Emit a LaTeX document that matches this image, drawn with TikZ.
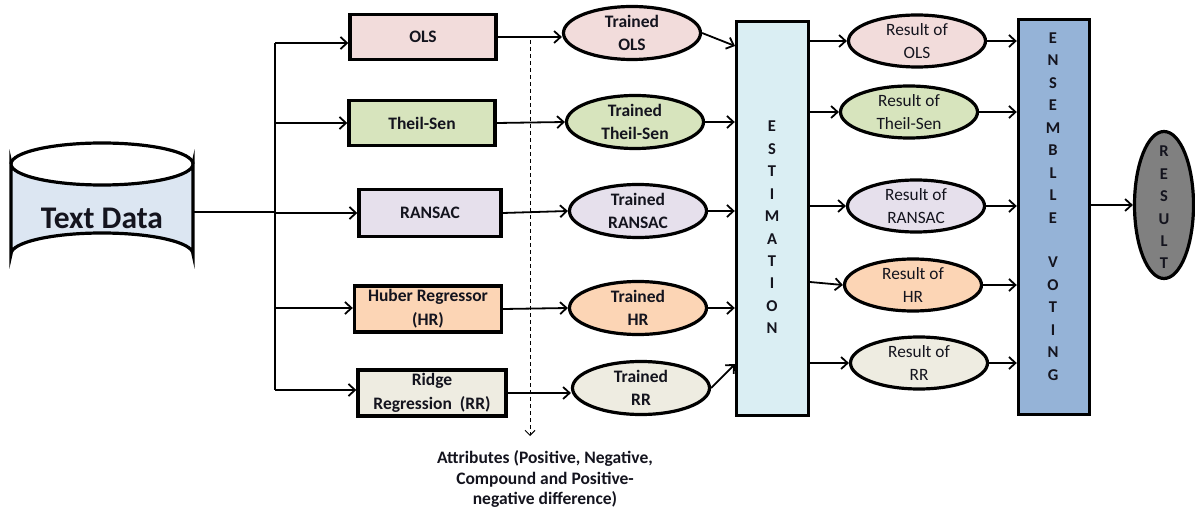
\documentclass[tikz,border=0pt]{standalone}
\usepackage{fontspec}
\setmainfont{Carlito}
\usetikzlibrary{arrows.meta,shapes.geometric}
\definecolor{olsc}{HTML}{F2DCDB}
\definecolor{tsc}{HTML}{D7E4BD}
\definecolor{ranc}{HTML}{E6E0EC}
\definecolor{hrc}{HTML}{FCD5B5}
\definecolor{rrc}{HTML}{EEECE1}
\definecolor{estc}{HTML}{DAEEF3}
\definecolor{ensc}{HTML}{95B3D7}
\definecolor{resc}{HTML}{808080}
\definecolor{cylc}{HTML}{DCE6F2}
\definecolor{txtc}{HTML}{14141E}
\begin{document}
\begin{tikzpicture}[x=1pt,y=-1pt,
  every node/.style={text=txtc},
  conn/.style={line width=1.8pt,-{Straight Barb[length=6.5pt,width=12pt,line width=1.8pt]}},
  plain/.style={line width=1.8pt},
  modelbox/.style={draw,line width=3.4pt,rectangle,minimum width=146,minimum height=45,inner sep=1pt,align=center,font=\bfseries\fontsize{17.5}{24}\selectfont},
  trained/.style={draw,line width=3.2pt,ellipse,minimum width=137,minimum height=53,inner sep=0pt,align=center,font=\bfseries\fontsize{17.5}{23}\selectfont},
  resultell/.style={draw,line width=3.2pt,ellipse,minimum width=137,minimum height=52,inner sep=0pt,align=center,font=\fontsize{17.3}{23}\selectfont},
  tallbox/.style={draw,line width=3.4pt,rectangle,inner sep=0pt},
  letters/.style={align=center,inner sep=0pt,font=\bfseries\fontsize{16.5}{22.45}\selectfont},
]
\useasboundingbox (0,0) rectangle (1195,513);

% cylinder
\draw[line width=3.2pt,fill=cylc] (11,164) -- (11,254) arc[start angle=180,end angle=360,x radius=91,y radius=21] -- (193,164) arc[start angle=0,end angle=180,x radius=91,y radius=21] -- cycle;
\draw[line width=3.2pt] (11,164) arc[start angle=180,end angle=360,x radius=91,y radius=21];
\node[font=\bfseries\fontsize{31.5}{36}\selectfont] (td) at (102,218) {Text Data};
\coordinate (tdout) at (193,212);
\coordinate (hub) at (275,212);

% model boxes
\node[modelbox,fill=olsc] (ols) at (423,37) {OLS};
\node[modelbox,fill=tsc] (ts) at (422,123) {Theil-Sen};
\node[modelbox,fill=ranc,minimum width=142,minimum height=47] (ran) at (430,213) {RANSAC};
\node[modelbox,fill=hrc,minimum width=147,minimum height=46] (hr) at (428,309) {Huber Regressor\\(HR)};
\node[modelbox,fill=rrc,minimum width=148,minimum height=46] (rr) at (432,393) {Ridge\\Regression~~(RR)};

% trained ellipses
\node[trained,fill=olsc] (tols) at (632,33) {Trained\\OLS};
\node[trained,fill=tsc] (tts) at (635,122) {Trained\\Theil-Sen};
\node[trained,fill=ranc] (tran) at (638,211) {Trained\\RANSAC};
\node[trained,fill=hrc] (thr) at (638,308) {Trained\\HR};
\node[trained,fill=rrc] (trr) at (641,388) {Trained\\RR};

% estimation
\node[tallbox,fill=estc,minimum width=72,minimum height=394] (est) at (772.5,218.5) {};
\node[letters] (estt) at (772,227.5) {E\\S\\T\\I\\M\\A\\T\\I\\O\\N};

% result ellipses
\node[resultell,fill=olsc] (rols) at (917,41) {Result of\\OLS};
\node[resultell,fill=tsc] (rts) at (909,112) {Result of\\Theil-Sen};
\node[resultell,fill=ranc] (rran) at (916,206) {Result of\\RANSAC};
\node[resultell,fill=hrc] (rhr) at (913,285) {Result of\\HR};
\node[resultell,fill=rrc] (rrr) at (919,363) {Result of\\RR};

% ensemble
\node[tallbox,fill=ensc,minimum width=71,minimum height=395] (ens) at (1054,217) {};
\node[letters] (enst) at (1053,206.5) {E\\N\\S\\E\\M\\B\\L\\L\\E\\[22.45pt]V\\O\\T\\I\\N\\G};

% final result
\node[draw,line width=3.2pt,ellipse,fill=resc,minimum width=59,minimum height=147,inner sep=0pt] (res) at (1164,205) {};
\node[letters] (rest) at (1164,207.5) {R\\E\\S\\U\\L\\T};

% attributes
\node[align=center,font=\bfseries\fontsize{17.5}{20.5}\selectfont] (attr) at (545,479) {Attributes (Positive, Negative,\\Compound and Positive-\\negative difference)};

% connectors: data to models
\coordinate (b1) at (275,43);
\coordinate (b2) at (275,123);
\coordinate (b3) at (275,213);
\coordinate (b4) at (275,308);
\coordinate (b5) at (275,390);
\draw[plain] (tdout) -- (hub);
\draw[plain] (b1) -- (b5);
\draw[conn] (b1) -- (b1 -| ols.west);
\draw[conn] (b2) -- (b2 -| ts.west);
\draw[conn] (b3) -- (b3 -| ran.west);
\draw[conn] (b4) -- (b4 -| hr.west);
\draw[conn] (b5) -- (b5 -| rr.west);

% models to trained
\draw[conn] (ols.east) -- (ols.east -| tols.west);
\draw[conn] (ts.east) -- (tts.west);
\draw[conn] (ran.east) -- (tran.west);
\draw[conn] (hr.east) -- (thr.west);
\draw[conn] (rr.east) -- (rr.east -| trr.west);

% trained to estimation
\coordinate (e1) at (735,46);
\coordinate (e5) at (735,364);
\draw[conn] (tols.east) -- (e1);
\draw[conn] (tts.east) -- (tts.east -| est.west);
\draw[conn] (tran.east) -- (tran.east -| est.west);
\draw[conn] (thr.east) -- (thr.east -| est.west);
\draw[conn] (trr.east) -- (e5);

% estimation to results
\coordinate (s4) at (810,282);
\draw[conn] (est.east |- rols) -- (rols.west);
\draw[conn] (est.east |- rts) -- (rts.west);
\draw[conn] (est.east |- rran) -- (rran.west);
\draw[conn] (s4) -- (rhr.west);
\draw[conn] (est.east |- rrr) -- (rrr.west);

% results to ensemble
\draw[conn] (rols.east) -- (rols.east -| ens.west);
\draw[conn] (rts.east) -- (rts.east -| ens.west);
\draw[conn] (rran.east) -- (rran.east -| ens.west);
\draw[conn] (rhr.east) -- (rhr.east -| ens.west);
\draw[conn] (rrr.east) -- (rrr.east -| ens.west);

% ensemble to result
\draw[conn] (ens.east |- res) -- (res.west);

% dashed attribute arrow
\coordinate (dtop) at (530,40);
\coordinate (dbot) at (530,436);
\draw[line width=1pt,dash pattern=on 4pt off 3pt,-{Straight Barb[length=5pt,width=10pt,line width=1pt]}] (dtop) -- (dbot);
\end{tikzpicture}
\end{document}
